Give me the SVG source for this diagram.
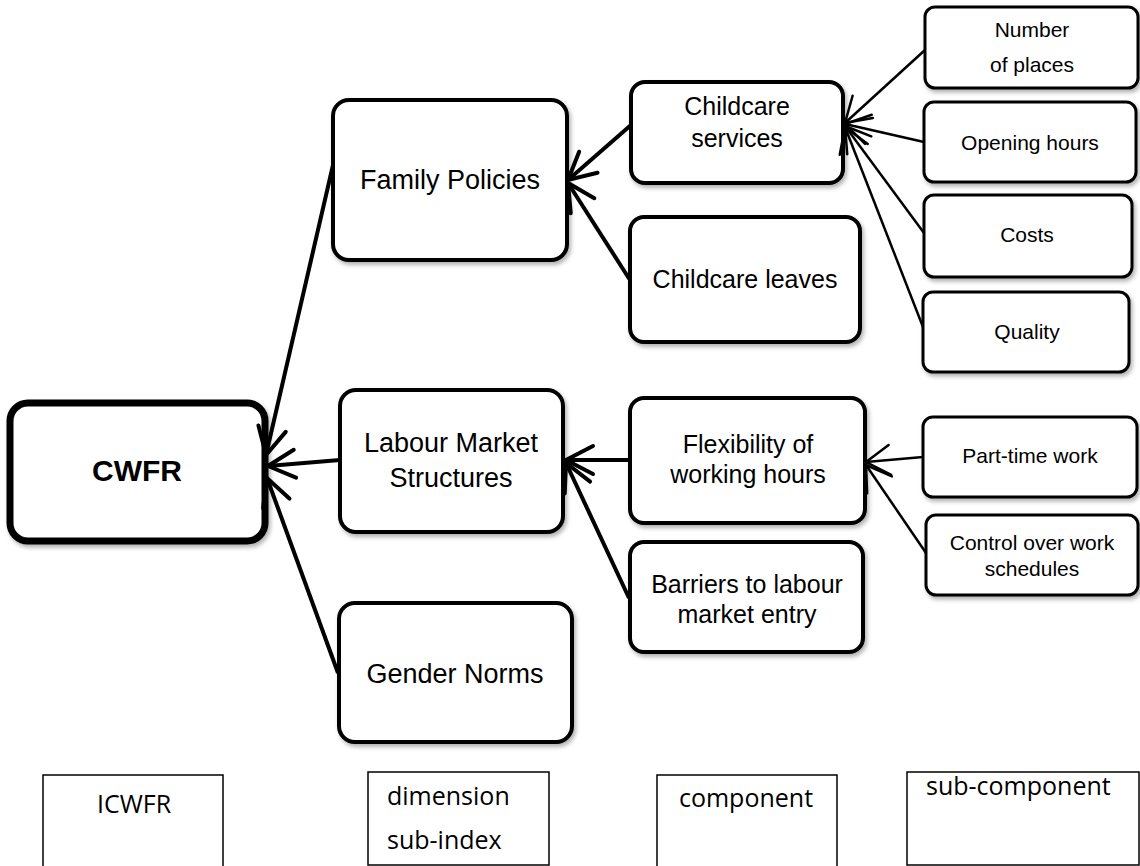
<svg xmlns="http://www.w3.org/2000/svg" width="1140" height="866" viewBox="0 0 1140 866">
  <style>
    .box { fill: #ffffff; stroke: #000000; stroke-width: 4; filter: url(#shadow); }
    .sub { fill: #ffffff; stroke: #000000; stroke-width: 3; filter: url(#shadow); }
    .main { fill: #ffffff; stroke: #000000; stroke-width: 7; filter: url(#shadow); }
    .leg { fill: #ffffff; stroke: #000000; stroke-width: 1.5; }
    text { font-family: "Liberation Sans", Arial, sans-serif; fill: #000000; text-anchor: middle; }
    .t27 { font-size: 27px; }
    .t25 { font-size: 25px; }
    .t21 { font-size: 21px; }
    .tl { font-family: "Open Sans", "Liberation Sans", sans-serif; font-size: 25px; }
    .cw { font-size: 30px; font-weight: bold; }
    .c1 { stroke: #000000; stroke-width: 4; fill: none; marker-end: url(#arrBig); }
    .c2 { stroke: #000000; stroke-width: 2.5; fill: none; marker-end: url(#arrSmall); }
  </style>
  <defs>
    <filter id="shadow" x="-10%" y="-10%" width="125%" height="130%">
      <feDropShadow dx="2" dy="3" stdDeviation="2" flood-color="#000000" flood-opacity="0.3"/>
    </filter>
    <marker id="arrBig" markerUnits="userSpaceOnUse" markerWidth="40" markerHeight="40" refX="32" refY="20" orient="auto" overflow="visible">
      <path d="M 5,6 L 32,20 L 5,34" fill="none" stroke="#000000" stroke-width="4" stroke-linecap="round" stroke-linejoin="miter"/>
    </marker>
    <marker id="arrSmall" markerUnits="userSpaceOnUse" markerWidth="40" markerHeight="40" refX="32" refY="20" orient="auto" overflow="visible">
      <path d="M 8,5 L 32,20 L 8,35" fill="none" stroke="#000000" stroke-width="2.5" stroke-linecap="round"/>
    </marker>
  </defs>

  <g id="node-cwfr">
    <rect class="main" x="10" y="403" width="255" height="138" rx="18"/>
    <text class="cw" x="137" y="481">CWFR</text>
  </g>
  <g id="node-family-policies">
    <rect class="box" x="333" y="100" width="234" height="160" rx="16"/>
    <text class="t27" x="450" y="189">Family Policies</text>
  </g>
  <g id="node-labour-market">
    <rect class="box" x="340" y="390" width="223" height="142" rx="16"/>
    <text class="t27" x="451" y="452">Labour Market</text>
    <text class="t27" x="451" y="487">Structures</text>
  </g>
  <g id="node-gender-norms">
    <rect class="box" x="339" y="603" width="233" height="139" rx="16"/>
    <text class="t27" x="455" y="683">Gender Norms</text>
  </g>
  <g id="node-childcare-services">
    <rect class="box" x="631" y="82" width="212" height="101" rx="14"/>
    <text class="t25" x="737" y="115">Childcare</text>
    <text class="t25" x="737" y="147">services</text>
  </g>
  <g id="node-childcare-leaves">
    <rect class="box" x="630" y="217" width="230" height="125" rx="14"/>
    <text class="t25" x="745" y="288">Childcare leaves</text>
  </g>
  <g id="node-flexibility">
    <rect class="box" x="630" y="398" width="235" height="125" rx="14"/>
    <text class="t25" x="748" y="453">Flexibility of</text>
    <text class="t25" x="748" y="483">working hours</text>
  </g>
  <g id="node-barriers">
    <rect class="box" x="630" y="542" width="233" height="110" rx="14"/>
    <text class="t25" x="747" y="593">Barriers to labour</text>
    <text class="t25" x="747" y="623">market entry</text>
  </g>
  <g id="node-number-of-places">
    <rect class="sub" x="925" y="7" width="213" height="81" rx="10"/>
    <text class="t21" x="1032" y="37">Number</text>
    <text class="t21" x="1032" y="72">of places</text>
  </g>
  <g id="node-opening-hours">
    <rect class="sub" x="924" y="102" width="212" height="80" rx="10"/>
    <text class="t21" x="1030" y="150">Opening hours</text>
  </g>
  <g id="node-costs">
    <rect class="sub" x="924" y="195" width="208" height="82" rx="10"/>
    <text class="t21" x="1027" y="242">Costs</text>
  </g>
  <g id="node-quality">
    <rect class="sub" x="923" y="292" width="206" height="80" rx="10"/>
    <text class="t21" x="1027" y="339">Quality</text>
  </g>
  <g id="node-part-time">
    <rect class="sub" x="923" y="417" width="214" height="80" rx="10"/>
    <text class="t21" x="1030" y="463">Part-time work</text>
  </g>
  <g id="node-control">
    <rect class="sub" x="926" y="515" width="212" height="80" rx="10"/>
    <text class="t21" x="1032" y="550">Control over work</text>
    <text class="t21" x="1032" y="576">schedules</text>
  </g>

  <g id="connectors">
    <line class="c1" x1="333" y1="165" x2="266" y2="455"/>
    <line class="c1" x1="340" y1="460" x2="268" y2="466"/>
    <line class="c1" x1="338" y1="673" x2="267" y2="478"/>
    <line class="c1" x1="631" y1="125" x2="568" y2="180"/>
    <line class="c1" x1="630" y1="280" x2="568" y2="183"/>
    <line class="c1" x1="630" y1="460" x2="566" y2="460"/>
    <line class="c1" x1="629" y1="598" x2="566" y2="463"/>
    <line class="c2" x1="925" y1="50" x2="845" y2="123"/>
    <line class="c2" x1="924" y1="142" x2="845" y2="124"/>
    <line class="c2" x1="924" y1="233" x2="845" y2="126"/>
    <line class="c2" x1="923" y1="327" x2="845" y2="127"/>
    <line class="c2" x1="923" y1="457" x2="866" y2="462"/>
    <line class="c2" x1="926" y1="553" x2="866" y2="465"/>
  </g>

  <g id="legend-icwfr">
    <rect class="leg" x="43" y="775" width="180" height="100"/>
    <text class="tl" x="134" y="813">ICWFR</text>
  </g>
  <g id="legend-dimension">
    <rect class="leg" x="368" y="772" width="181" height="93"/>
    <text class="tl" x="387" y="805" style="text-anchor:start">dimension</text>
    <text class="tl" x="387" y="849" style="text-anchor:start">sub-index</text>
  </g>
  <g id="legend-component">
    <rect class="leg" x="657" y="775" width="180" height="100"/>
    <text class="tl" x="746" y="807">component</text>
  </g>
  <g id="legend-sub-component">
    <rect class="leg" x="907" y="772" width="232" height="93"/>
    <text class="tl" x="926" y="795" style="text-anchor:start">sub-component</text>
  </g>
</svg>
